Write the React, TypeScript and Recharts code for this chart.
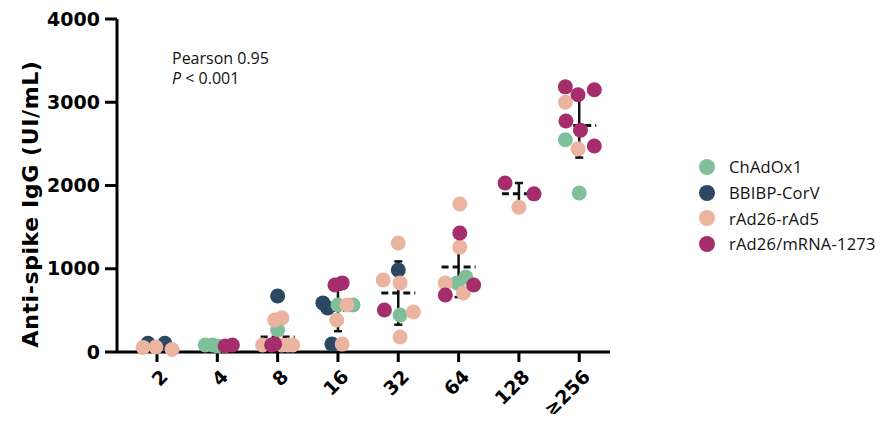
import React from "react";
import { ScatterChart, Scatter, XAxis, YAxis, ErrorBar } from "recharts";

const groups = ["2", "4", "8", "16", "32", "64", "128", "≥256"];

// each point: [group index, jitter within the group, anti-spike IgG]
const chadox1 = [
  [1, -0.2, 84], [1, -0.08, 84], [1, 0, 72],
  [2, 0, 265],
  [3, 0, 565], [3, 0.25, 565],
  [4, 0.03, 445],
  [5, 0.12, 900], [5, -0.02, 830],
  [7, -0.23, 2550], [7, 0, 1910],
];
const bbibp = [
  [0, -0.15, 105], [0, 0.13, 105],
  [2, 0, 673],
  [3, -0.25, 590], [3, -0.17, 530], [3, -0.1, 95],
  [4, 0, 985],
];
const rad26rad5 = [
  [0, -0.23, 55], [0, -0.02, 60], [0, 0.25, 30],
  [2, -0.05, 385], [2, 0.07, 410], [2, -0.25, 84], [2, 0.07, 84], [2, 0.17, 84], [2, 0.25, 84],
  [3, 0.15, 565], [3, -0.02, 385], [3, 0.07, 95],
  [4, 0, 1310], [4, -0.25, 865], [4, 0.03, 830], [4, 0.25, 480], [4, 0.03, 180],
  [5, 0.02, 1778], [5, 0.02, 1260], [5, -0.22, 830], [5, 0.08, 710],
  [6, 0, 1740],
  [7, -0.23, 3000], [7, -0.02, 2440],
];
const rad26mrna = [
  [1, 0.13, 72], [1, 0.25, 84],
  [2, -0.1, 84], [2, -0.05, 96],
  [3, -0.05, 805], [3, 0.07, 830],
  [4, -0.23, 505],
  [5, 0.02, 1430], [5, 0.25, 805], [5, -0.22, 685],
  [6, -0.23, 2030], [6, 0.25, 1900],
  [7, -0.23, 3185], [7, -0.02, 3090], [7, 0.25, 3150], [7, -0.22, 2775], [7, 0.02, 2665], [7, 0.25, 2475],
];

// group mean and error (SEM)
const means = [60, 70, 180, 500, 708, 1020, 1900, 2720];
const errors = [30, 10, 90, 250, 380, 360, 130, 385];

const yTicks = [0, 1000, 2000, 3000, 4000];

const series = [
  { name: "ChAdOx1", color: "#7fbf9a", points: chadox1 },
  { name: "BBIBP-CorV", color: "#2b4761", points: bbibp },
  { name: "rAd26-rAd5", color: "#ebb4a0", points: rad26rad5 },
  { name: "rAd26/mRNA-1273", color: "#a52d6b", points: rad26mrna },
];
// draw order: navy underneath, magenta on top
const drawOrder = [1, 0, 2, 3];

const toXY = (pts: number[][]) => pts.map(([g, j, v]) => ({ x: g + j, y: v }));
const meanData = means.map((m, i) => ({ x: i, y: m, err: errors[i] }));

const tickFont = { fontFamily: "DejaVu Sans", fontWeight: 700, fontSize: 19, fill: "#000" };
const textFont = "'Open Sans', sans-serif";

const XTick = (props: any) => {
  const { x, y, payload } = props;
  const tx = x + 12;
  const ty = y + 14;
  return (
    <text x={tx} y={ty} transform={`rotate(-45, ${tx}, ${ty})`} textAnchor="end" {...tickFont}>
      {groups[payload.value]}
    </text>
  );
};

const dot = (color: string) => (props: any) =>
  <circle cx={props.cx} cy={props.cy} r={7.5} fill={color} />;

const meanLine = (props: any) => (
  <line
    x1={props.cx - 17}
    x2={props.cx + 17}
    y1={props.cy}
    y2={props.cy}
    stroke="#111"
    strokeWidth={3}
    strokeDasharray="7 4"
  />
);

export default function App() {
  return (
    <div style={{ position: "relative", width: 869, height: 414, marginBottom: -8 }}>
      <ScatterChart width={869} height={414} margin={{ top: 11, right: 267, bottom: 0, left: 0 }}>
        <XAxis
          type="number"
          dataKey="x"
          domain={[-0.663, 7.51]}
          ticks={[0, 1, 2, 3, 4, 5, 6, 7]}
          allowDataOverflow
          height={70}
          tickSize={10}
          tick={<XTick />}
          axisLine={{ stroke: "#000", strokeWidth: 3 }}
          tickLine={{ stroke: "#000", strokeWidth: 3 }}
        />
        <YAxis
          type="number"
          dataKey="y"
          domain={[0, 4000]}
          ticks={yTicks}
          width={109}
          tickSize={12}
          tickMargin={5}
          tick={tickFont}
          axisLine={{ stroke: "#000", strokeWidth: 3 }}
          tickLine={{ stroke: "#000", strokeWidth: 3 }}
        />
        {/* mean and SEM sit underneath the points */}
        <Scatter data={meanData} shape={meanLine} isAnimationActive={false}>
          <ErrorBar dataKey="err" direction="y" width={4} stroke="#111" strokeWidth={2.5} isAnimationActive={false} />
        </Scatter>
        {drawOrder.map((k) => (
          <Scatter
            key={series[k].name}
            name={series[k].name}
            data={toXY(series[k].points)}
            fill={series[k].color}
            shape={dot(series[k].color)}
            isAnimationActive={false}
          />
        ))}
      </ScatterChart>

      <div
        style={{
          position: "absolute",
          left: 22,
          top: 196,
          transform: "translate(-50%, -50%) rotate(-90deg)",
          whiteSpace: "nowrap",
          fontFamily: "'DejaVu Sans', sans-serif",
          fontWeight: 700,
          fontSize: 22,
          letterSpacing: 0.6,
        }}
      >
        Anti-spike IgG (UI/mL)
      </div>

      <div
        style={{
          position: "absolute",
          left: 164,
          top: 40,
          fontFamily: textFont,
          fontSize: 16,
          lineHeight: "20px",
          color: "#111",
        }}
      >
        <div>Pearson 0.95</div>
        <div>
          <i>P</i> &lt; 0.001
        </div>
      </div>

      <div style={{ position: "absolute", left: 691, top: 146, width: 178 }}>
        {series.map((s) => (
          <div key={s.name} style={{ display: "flex", alignItems: "center", height: 25.7, whiteSpace: "nowrap" }}>
            <span
              style={{
                display: "inline-block",
                flex: "none",
                width: 16,
                height: 16,
                borderRadius: 8,
                background: s.color,
                marginRight: 14,
              }}
            />
            <span style={{ fontFamily: textFont, fontSize: 16.5, letterSpacing: 0.2, color: "#111" }}>{s.name}</span>
          </div>
        ))}
      </div>
    </div>
  );
}
